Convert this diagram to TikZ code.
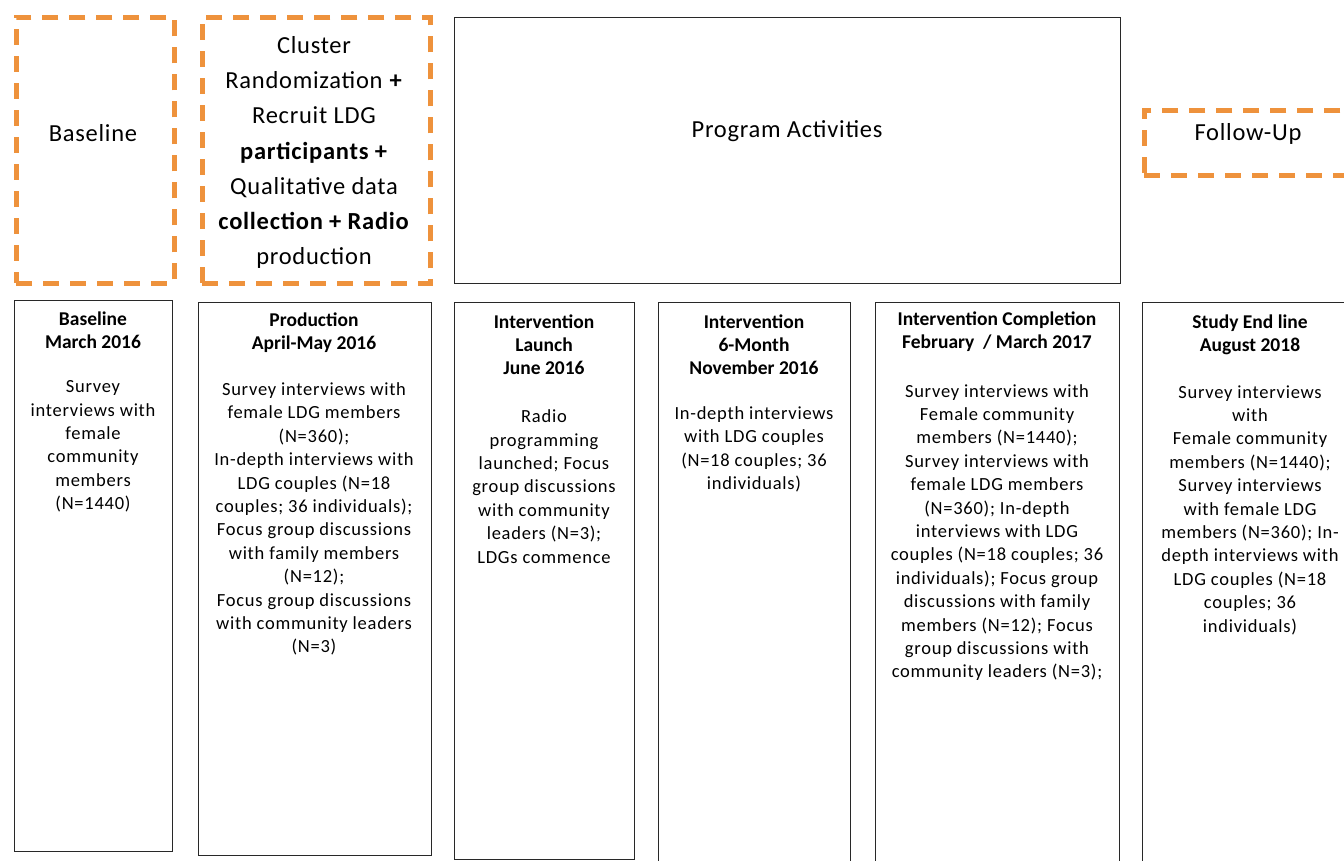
\documentclass[tikz,border=0pt]{standalone}
\usepackage{fontspec}
\setmainfont{Carlito}
\newfontfamily\bodyfam[LetterSpace=4]{Carlito}
\newfontfamily\topfam[LetterSpace=3]{Carlito}
\definecolor{orangec}{RGB}{238,146,60}
\definecolor{boxline}{RGB}{40,40,40}
\tikzset{
  dashbox/.style={draw=orangec, line width=4.5pt, dash pattern=on 16pt off 11pt, inner sep=0pt, anchor=north west},
  solidbox/.style={draw=boxline, line width=1.3pt, inner sep=0pt, anchor=north west},
  toptext/.style={font=\topfam\fontsize{24.5}{35.2}\selectfont, align=center, inner sep=0pt},
  titletext/.style={font=\bfseries\fontsize{19.5}{23}\selectfont, align=center, inner sep=0pt},
  bodytext/.style={font=\bodyfam\fontsize{18.5}{23.4}\selectfont, align=center, inner sep=0pt}
}
\begin{document}
\begin{tikzpicture}[x=1pt,y=-1pt]
\useasboundingbox (0,0) rectangle (1344,860);
\clip (0,0) rectangle (1344,860);
\fill[white] (0,0) rectangle (1344,860);
% top row
\node[dashbox, minimum width=158pt, minimum height=266pt] (tBase) at (14,15) {};
\node[dashbox, minimum width=228pt, minimum height=266pt] (tClus) at (200,15) {};
\node[solidbox, minimum width=666pt, minimum height=266pt] (tProg) at (454,17) {};
\node[dashbox, minimum width=214pt, minimum height=65pt] (tFoll) at (1142,108) {};
\node[toptext] (lBase) at (93,133) {Baseline};
\node[toptext] (lClus) at (314,152.5) {Cluster\\Randomization \textbf{+}\\Recruit LDG\\\textbf{participants +}\\Qualitative data\\\textbf{collection + Radio}\\production};
\node[toptext] (lProg) at (787,131) {Program Activities};
\node[toptext] (lFoll) at (1248,134) {Follow-Up};
% bottom row
\node[solidbox, minimum width=158pt, minimum height=551pt] (bBase) at (14,300) {};
\node[solidbox, minimum width=233pt, minimum height=553pt] (bProd) at (198,302) {};
\node[solidbox, minimum width=180pt, minimum height=557pt] (bLaun) at (454,302) {};
\node[solidbox, minimum width=192pt, minimum height=580pt] (bSix) at (658,302) {};
\node[solidbox, minimum width=244pt, minimum height=580pt] (bComp) at (875,302) {};
\node[solidbox, minimum width=230pt, minimum height=580pt] (bEnd) at (1142,302) {};
% titles
\node[titletext] (hBase) at (93,330) {Baseline\\March 2016};
\node[titletext] (hProd) at (314,332.5) {Production\\April-May 2016};
\node[titletext] (hLaun) at (544,345) {Intervention\\Launch\\June 2016};
\node[titletext] (hSix) at (754,345) {Intervention\\6-Month\\November 2016};
\node[titletext] (hComp) at (997,331.5) {Intervention Completion\\February~ / March 2017};
\node[titletext] (hEnd) at (1250,334.5) {Study End line\\August 2018};
% bodies
\node[bodytext] (xBase) at (93,446.5) {Survey\\interviews with\\female\\community\\members\\(N=1440)};
\node[bodytext] (xProd) at (314,519) {Survey interviews with\\female LDG members\\(N=360);\\In-depth interviews with\\LDG couples (N=18\\couples; 36 individuals);\\Focus group discussions\\with family members\\(N=12);\\Focus group discussions\\with community leaders\\(N=3)};
\node[bodytext] (xLaun) at (544,486.5) {Radio\\programming\\launched; Focus\\group discussions\\with community\\leaders (N=3);\\LDGs commence};
\node[bodytext] (xSix) at (754,449.5) {In-depth interviews\\with LDG couples\\(N=18 couples; 36\\individuals)};
\node[bodytext] (xComp) at (997,532.5) {Survey interviews with\\Female community\\members (N=1440);\\Survey interviews with\\female LDG members\\(N=360); In-depth\\interviews with LDG\\couples (N=18 couples; 36\\individuals); Focus group\\discussions with family\\members (N=12); Focus\\group discussions with\\community leaders (N=3);};
\node[bodytext] (xEnd) at (1250,510) {Survey interviews\\with\\Female community\\members (N=1440);\\Survey interviews\\with female LDG\\members (N=360); In-\\depth interviews with\\LDG couples (N=18\\couples; 36\\individuals)};
\end{tikzpicture}
\end{document}
